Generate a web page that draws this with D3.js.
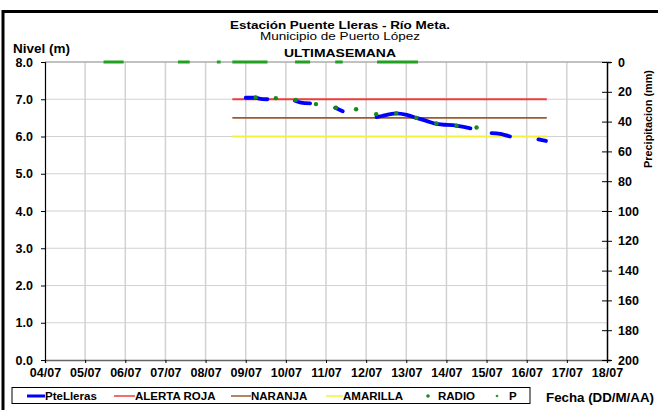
<!DOCTYPE html>
<html>
<head>
<meta charset="utf-8">
<script src="https://cdn.jsdelivr.net/npm/d3@7"></script>
<style>
  body { margin: 0; background: #fff; }
  svg { display: block; font-family: "Liberation Sans", Arial, sans-serif; }
</style>
</head>
<body>
<svg id="chart" width="658" height="410"></svg>
<script>
// data (July, times as "DD HH:MM")
var levelTimes = [
  "09 00:00", "09 06:00", "09 08:00", "09 13:00", null,
  "10 05:30", "10 09:00", "10 14:30", null,
  "11 05:30", "11 10:00", null,
  "12 06:15", "12 09:20", "12 18:00", "13 00:15", "13 06:00", "13 12:00", "13 18:00", "14 06:00", "14 14:20", null,
  "15 03:00", "15 08:00", "15 14:00", null,
  "16 07:00", "16 11:30"
];
var levelValues = [
  7.04, 7.04, 7.02, 7.00, null,
  6.96, 6.91, 6.89, null,
  6.77, 6.68, null,
  6.52, 6.55, 6.62, 6.58, 6.50, 6.42, 6.34, 6.29, 6.22, null,
  6.09, 6.07, 6.00, null,
  5.92, 5.88
];
var radioTimes = ["09 06:00", "09 18:00", "10 06:00", "10 18:00", "11 06:00", "11 18:00",
                  "12 06:00", "12 18:00", "13 06:00", "13 18:00", "14 06:00", "14 18:00"];
var radioValues = [7.05, 7.03, 6.98, 6.87, 6.77, 6.73, 6.60, 6.62, 6.50, 6.35, 6.29, 6.24];

// precipitation readings (all 0 mm), as runs of hourly records
var pStart = ["05 11:00", "07 07:30", "08 06:45", "08 16:00", "10 05:30", "11 05:30", "12 06:30"];
var pEnd   = ["05 23:00", "07 14:30", "08 09:00", "09 13:00", "10 14:30", "11 10:00", "13 07:00"];
var pValues = [0, 0, 0, 0, 0, 0, 0];

var alertNames = ["ALERTA ROJA", "NARANJA", "AMARILLA"];
var alertValues = [7.0, 6.5, 6.0];
var alertColors = ["#f03c3c", "#9c5a32", "#f5f03c"];
var alertFrom = "08 16:00", alertTo = "16 12:00";

var levelTicks = [0, 1, 2, 3, 4, 5, 6, 7, 8];
var precipTicks = [0, 20, 40, 60, 80, 100, 120, 140, 160, 180, 200];

var parseT = d3.timeParse("%Y-%m-%d %H:%M");
function t(s) { return parseT("2012-07-" + s); }

var svg = d3.select("#chart");
var pLeft = 45, pRight = 607, pTop = 62, pBottom = 360;

var x = d3.scaleTime().domain([t("04 00:00"), t("18 00:00")]).range([pLeft, pRight]);
var y = d3.scaleLinear().domain([0, 8]).range([pBottom, pTop]);
var yP = d3.scaleLinear().domain([0, 200]).range([pTop, pBottom]);

// outer frame
svg.append("rect").attr("x", 3).attr("y", 11.5).attr("width", 700).attr("height", 500)
  .attr("fill", "none").attr("stroke", "#000").attr("stroke-width", 3);

// grid
var days = d3.timeDay.range(t("05 00:00"), t("18 00:00"));
svg.append("g").selectAll("line").data(days).enter().append("line")
  .attr("x1", d => x(d)).attr("x2", d => x(d)).attr("y1", pTop).attr("y2", pBottom)
  .attr("stroke", "#d2d2d2").attr("stroke-width", 1.5);
svg.append("g").selectAll("line").data(levelTicks.slice(1)).enter().append("line")
  .attr("x1", pLeft).attr("x2", pRight).attr("y1", d => y(d)).attr("y2", d => y(d))
  .attr("stroke", "#d2d2d2").attr("stroke-width", 1.2);
svg.append("line").attr("x1", pLeft).attr("x2", pRight).attr("y1", pTop).attr("y2", pTop)
  .attr("stroke", "#999").attr("stroke-width", 1.2);

// axes
var fmt = d3.timeFormat("%d/%m");
var xAxis = svg.append("g").attr("transform", "translate(0," + pBottom + ")")
  .call(d3.axisBottom(x).tickValues(d3.timeDay.range(t("04 00:00"), t("18 12:00"))).tickFormat(fmt).tickSize(3).tickPadding(3));
xAxis.select(".domain").attr("stroke", "#666").attr("stroke-width", 1.5);
var yAxis = svg.append("g").attr("transform", "translate(" + pLeft + ",0)")
  .call(d3.axisLeft(y).tickValues(levelTicks).tickFormat(d3.format(".1f")).tickSize(4).tickPadding(8));
yAxis.select(".domain").attr("stroke", "#000").attr("stroke-width", 1.2);
var pAxis = svg.append("g").attr("transform", "translate(" + pRight + ",0)")
  .call(d3.axisRight(yP).tickValues(precipTicks).tickSize(4).tickPadding(8));
pAxis.select(".domain").attr("stroke", "#000").attr("stroke-width", 1.5);
pAxis.selectAll(".tick line").attr("x1", -5).attr("x2", 5);
[xAxis, yAxis, pAxis].forEach(function (a) {
  a.selectAll("text").attr("font-size", 12.5).attr("font-weight", "bold").attr("fill", "#000")
    .attr("font-family", "Liberation Sans, Arial, sans-serif");
});
xAxis.selectAll("text").attr("dy", "0.85em");
pAxis.selectAll("text").attr("dx", -1);

// alert lines
svg.append("g").selectAll("line").data(alertValues).enter().append("line")
  .attr("x1", x(t(alertFrom))).attr("x2", x(t(alertTo)))
  .attr("y1", d => y(d)).attr("y2", d => y(d))
  .attr("stroke", (d, i) => alertColors[i]).attr("stroke-width", 1.8);

// level series
var levelData = levelTimes.map((d, i) => ({ t: d ? t(d) : null, v: levelValues[i] }));
var line = d3.line().defined(d => d.v != null).x(d => x(d.t)).y(d => y(d.v)).curve(d3.curveMonotoneX);
svg.append("path").datum(levelData).attr("d", line)
  .attr("fill", "none").attr("stroke", "#0000ff").attr("stroke-width", 3.8).attr("stroke-linecap", "round");

// radio readings
svg.append("g").selectAll("circle").data(radioValues).enter().append("circle")
  .attr("cx", (d, i) => x(t(radioTimes[i]))).attr("cy", d => y(d)).attr("r", 2.2)
  .attr("fill", "#168c16");

// precipitation records
svg.append("g").selectAll("line").data(pValues).enter().append("line")
  .attr("x1", (d, i) => x(t(pStart[i]))).attr("x2", (d, i) => x(t(pEnd[i])))
  .attr("y1", d => yP(d)).attr("y2", d => yP(d))
  .attr("stroke", "#22a022").attr("stroke-width", 3);

// titles
var cx = 340;
function label(xp, yp, txt, size, bold, len) {
  var el = svg.append("text").attr("x", xp).attr("y", yp).attr("font-size", size)
    .attr("font-weight", bold ? "bold" : "normal").text(txt);
  if (len) el.attr("textLength", len).attr("lengthAdjust", "spacingAndGlyphs");
  return el;
}
label(cx, 29, "Estación Puente Lleras - Río Meta.", 11.5, true, 220).attr("text-anchor", "middle");
label(cx, 40, "Municipio de Puerto López", 11.5, false, 160).attr("text-anchor", "middle");
label(cx, 56.5, "ULTIMASEMANA", 11.5, true, 112).attr("text-anchor", "middle");
label(13, 53, "Nivel (m)", 12, true, 57);
label(0, 0, "Precipitacion (mm)", 11.5, true, 98)
  .attr("transform", "translate(652,119) rotate(-90)").attr("text-anchor", "middle");
label(546, 402, "Fecha (DD/M/AA)", 12.5, true, 108);

// legend
svg.append("rect").attr("x", 12).attr("y", 387.5).attr("width", 518).attr("height", 16)
  .attr("fill", "#fff").attr("stroke", "#000").attr("stroke-width", 1);
var legItems = [
  { name: "PteLleras", type: "line", color: "#0000ff", w: 3, x: 27, tx: 45 },
  { name: alertNames[0], type: "line", color: alertColors[0], w: 1.5, x: 114, tx: 135 },
  { name: alertNames[1], type: "line", color: alertColors[1], w: 1.5, x: 231, tx: 251 },
  { name: alertNames[2], type: "line", color: alertColors[2], w: 1.5, x: 326, tx: 343 },
  { name: "RADIO", type: "dot", color: "#168c16", r: 1.8, x: 428, tx: 438 },
  { name: "P", type: "dot", color: "#22a022", r: 1.3, x: 497, tx: 509 }
];
var ly = 396;
var leg = svg.append("g").selectAll("g").data(legItems).enter().append("g");
leg.filter(d => d.type == "line").append("line")
  .attr("x1", d => d.x).attr("x2", d => d.tx).attr("y1", ly).attr("y2", ly)
  .attr("stroke", d => d.color).attr("stroke-width", d => d.w);
leg.filter(d => d.type == "dot").append("circle")
  .attr("cx", d => d.x).attr("cy", ly).attr("r", d => d.r).attr("fill", d => d.color);
leg.append("text").attr("x", d => d.tx).attr("y", ly + 4)
  .attr("font-size", 11.5).attr("font-weight", "bold").text(d => d.name);
</script>
</body>
</html>
